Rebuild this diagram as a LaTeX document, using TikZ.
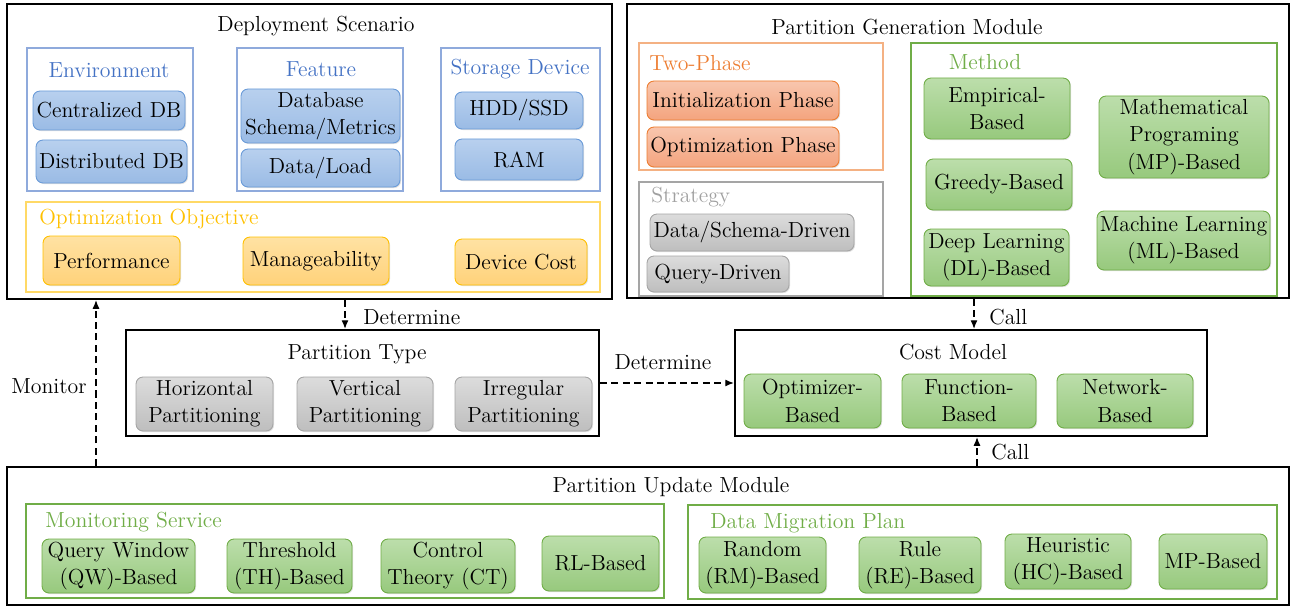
\documentclass[tikz,border=0pt]{standalone}
\usetikzlibrary{shadows,arrows.meta}
\definecolor{bluefr}{HTML}{8FAADC}
\definecolor{bluetx}{HTML}{4472C4}
\definecolor{bluebd}{HTML}{6A9BD8}
\definecolor{bluet}{HTML}{B8D0EE}
\definecolor{blueb}{HTML}{9ABBE5}
\definecolor{yelfr}{HTML}{FFD966}
\definecolor{yeltx}{HTML}{FFC000}
\definecolor{yelbd}{HTML}{FFC000}
\definecolor{yelt}{HTML}{FFE2A3}
\definecolor{yelb}{HTML}{FFD27A}
\definecolor{orfr}{HTML}{F4B183}
\definecolor{ortx}{HTML}{ED7D31}
\definecolor{orbd}{HTML}{ED7D31}
\definecolor{ort}{HTML}{F8C6AE}
\definecolor{orb}{HTML}{F4A47E}
\definecolor{grfr}{HTML}{A5A5A5}
\definecolor{grtx}{HTML}{A0A0A0}
\definecolor{grbd}{HTML}{A5A5A5}
\definecolor{grt}{HTML}{DCDCDC}
\definecolor{grb}{HTML}{BEBEBE}
\definecolor{gnfr}{HTML}{70AD47}
\definecolor{gntx}{HTML}{70AD47}
\definecolor{gnbd}{HTML}{70AD47}
\definecolor{gnt}{HTML}{BCDEAB}
\definecolor{gnb}{HTML}{97C97D}
\tikzset{
  sz/.style 2 args={minimum width=#1*0.02cm, minimum height=#2*0.02cm},
  outer/.style={draw=black, line width=1.1pt, inner sep=0pt},
  frame/.style={draw=#1, line width=0.8pt, inner sep=0pt},
  ibox/.style={rounded corners=4pt, line width=0.5pt, align=center, inner sep=0pt,
    drop shadow={shadow xshift=0.6pt, shadow yshift=-0.6pt, opacity=0.25}},
  bluebox/.style={ibox, draw=bluebd, top color=bluet, bottom color=blueb},
  yelbox/.style={ibox, draw=yelbd, top color=yelt, bottom color=yelb},
  orbox/.style={ibox, draw=orbd, top color=ort, bottom color=orb},
  grbox/.style={ibox, draw=grbd, top color=grt, bottom color=grb},
  gnbox/.style={ibox, draw=gnbd, top color=gnt, bottom color=gnb},
  lbl/.style={inner sep=0pt},
  darrow/.style={dashed, line width=0.8pt, dash pattern=on 4pt off 2.5pt, -{Latex[length=5pt,width=4pt]}},
}
\begin{document}
\begin{tikzpicture}[x=0.02cm, y=-0.02cm, font=\fontsize{12.4}{15.5}\selectfont]
\useasboundingbox (0,0) rectangle (1292,608);

% ---------- outer boxes
\node[outer, sz={605}{295}] (dep) at (309.5,151.5) {};
\node[outer, sz={662}{294}] (gen) at (958,151) {};
\node[outer, sz={473}{106}] (ptype) at (362.5,383) {};
\node[outer, sz={472}{106}] (cost) at (971,383) {};
\node[outer, sz={1282}{138}] (upd) at (648,536) {};

% ---------- Deployment scenario
\node[lbl] (depT) at (316,26) {Deployment Scenario};
\node[frame=bluefr, sz={166}{143}] (envf) at (110,119.5) {};
\node[frame=bluefr, sz={166}{143}] (featf) at (320,119.5) {};
\node[frame=bluefr, sz={159}{143}] (storf) at (520.5,119.5) {};
\node[frame=yelfr, sz={574}{90}] (objf) at (313,247) {};
\node[lbl, text=bluetx] (envT) at (109,70) {Environment};
\node[lbl, text=bluetx] (featT) at (321,69) {Feature};
\node[lbl, text=bluetx] (storT) at (520,69) {Storage Device};
\node[lbl, text=yeltx, anchor=west] (objT) at (39,219) {Optimization Objective};
\node[bluebox, sz={152}{39}] (cdb) at (109,110.5) {Centralized DB};
\node[bluebox, sz={151}{43}] (ddb) at (111.5,161.5) {Distributed DB};
\node[bluebox, sz={159}{54}] (dbs) at (320.5,116) {Database\\Schema/Metrics};
\node[bluebox, sz={159}{38}] (dload) at (320.5,168) {Data/Load};
\node[bluebox, sz={128}{37}] (hdd) at (519,110.5) {HDD/SSD};
\node[bluebox, sz={128}{41}] (ram) at (519,159.5) {RAM};
\node[yelbox, sz={137}{49}] (perf) at (111.5,260.5) {Performance};
\node[yelbox, sz={146}{48}] (man) at (316,261) {Manageability};
\node[yelbox, sz={132}{46}] (dcost) at (521,262) {Device Cost};

% ---------- Partition generation module
\node[lbl] (genT) at (907,27) {Partition Generation Module};
\node[frame=orfr, sz={244}{127}] (twof) at (761,106.5) {};
\node[frame=grfr, sz={244}{114}] (stratf) at (761,239) {};
\node[frame=gnfr, sz={366}{253}] (methf) at (1094,169.5) {};
\node[lbl, text=ortx, anchor=west] (twoT) at (649,63) {Two-Phase};
\node[lbl, text=grtx, anchor=west] (stratT) at (651,197) {Strategy};
\node[lbl, text=gntx] (methT) at (985,62) {Method};
\node[orbox, sz={192}{39}] (init) at (743,100.5) {Initialization Phase};
\node[orbox, sz={192}{40}] (optp) at (743,147) {Optimization Phase};
\node[grbox, sz={204}{37}] (dsd) at (752,232.5) {Data/Schema-Driven};
\node[grbox, sz={142}{36}] (qd) at (718,274) {Query-Driven};
\node[gnbox, sz={146}{61}] (emp) at (997,108.5) {Empirical-\\Based};
\node[gnbox, sz={146}{51}] (greedy) at (999,184.5) {Greedy-Based};
\node[gnbox, sz={145}{57}] (dlb) at (996.5,257.5) {Deep Learning\\(DL)-Based};
\node[gnbox, sz={170}{82}] (mp) at (1184,137) {Mathematical\\Programing\\(MP)-Based};
\node[gnbox, sz={173}{59}] (ml) at (1183.5,240.5) {Machine Learning\\(ML)-Based};

% ---------- Partition type
\node[lbl] (ptT) at (357,354) {Partition Type};
\node[grbox, sz={137}{54}] (hor) at (204.5,404) {Horizontal\\Partitioning};
\node[grbox, sz={136}{54}] (ver) at (365,404) {Vertical\\Partitioning};
\node[grbox, sz={137}{54}] (irr) at (523.5,404) {Irregular\\Partitioning};

% ---------- Cost model
\node[lbl] (cmT) at (953,352) {Cost Model};
\node[gnbox, sz={137}{54}] (optb) at (812.5,401) {Optimizer-\\Based};
\node[gnbox, sz={134}{54}] (funb) at (969,401) {Function-\\Based};
\node[gnbox, sz={136}{54}] (netb) at (1125,401) {Network-\\Based};

% ---------- Partition update module
\node[lbl] (updT) at (671,487) {Partition Update Module};
\node[frame=gnfr, sz={638}{94}] (monf) at (345,551) {};
\node[frame=gnfr, sz={589}{94}] (migf) at (982.5,552) {};
\node[lbl, text=gntx, anchor=west] (monT) at (45,522) {Monitoring Service};
\node[lbl, text=gntx, anchor=west] (migT) at (710,523) {Data Migration Plan};
\node[gnbox, sz={153}{54}] (qw) at (118.5,566) {Query Window\\(QW)-Based};
\node[gnbox, sz={125}{54}] (th) at (289.5,566) {Threshold\\(TH)-Based};
\node[gnbox, sz={134}{54}] (ct) at (448,566) {Control\\Theory (CT)};
\node[gnbox, sz={117}{55}] (rl) at (600.5,563.5) {RL-Based};
\node[gnbox, sz={127}{56}] (rm) at (762.5,565) {Random\\(RM)-Based};
\node[gnbox, sz={122}{56}] (re) at (920,565) {Rule\\(RE)-Based};
\node[gnbox, sz={126}{55}] (hc) at (1068,561.5) {Heuristic\\(HC)-Based};
\node[gnbox, sz={108}{55}] (mpb) at (1213,561.5) {MP-Based};

% ---------- connectors
\coordinate (d1) at (345,0);
\coordinate (c1) at (974,0);
\coordinate (m1) at (96,0);
\coordinate (c2) at (977,0);
\draw[darrow] (d1 |- dep.south) -- (d1 |- ptype.north);
\draw[darrow] (c1 |- gen.south) -- (c1 |- cost.north);
\draw[darrow] (ptype.east) -- (cost.west);
\draw[darrow] (m1 |- upd.north) -- (m1 |- dep.south);
\draw[darrow] (c2 |- upd.north) -- (c2 |- cost.south);
\node[lbl, anchor=west] (lDet1) at (363,317) {Determine};
\node[lbl, anchor=west] (lCall1) at (989,317) {Call};
\node[lbl] (lDet2) at (663,362) {Determine};
\node[lbl, anchor=west] (lMon) at (11,386) {Monitor};
\node[lbl, anchor=west] (lCall2) at (991,452) {Call};
\end{tikzpicture}
\end{document}
